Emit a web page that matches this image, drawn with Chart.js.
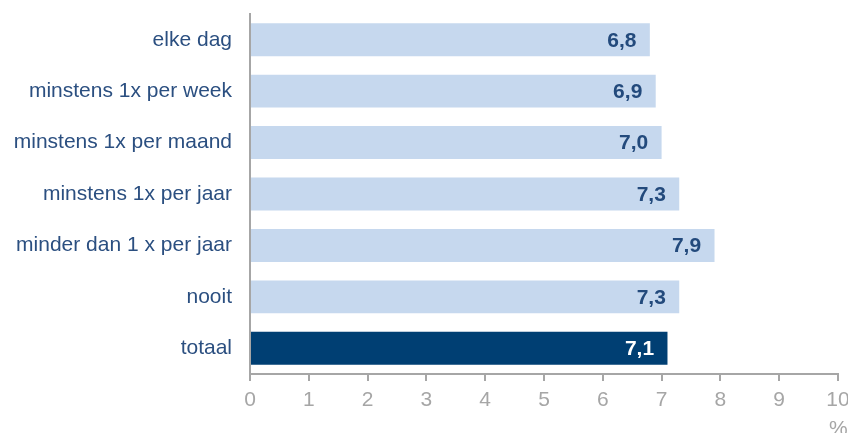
<!DOCTYPE html>
<html lang="nl">
<head>
  <meta charset="utf-8">
  <style>
    html, body { margin: 0; padding: 0; background: #ffffff; }
    .chart-box { position: relative; width: 848px; height: 433px; }
  </style>
</head>
<body>
  <div class="chart-box">
    <canvas id="myChart" width="848" height="433"></canvas>
  </div>
  <script src="https://cdn.jsdelivr.net/npm/chart.js"></script>
  <script>
    const categories = [
      'elke dag',
      'minstens 1x per week',
      'minstens 1x per maand',
      'minstens 1x per jaar',
      'minder dan 1 x per jaar',
      'nooit',
      'totaal'
    ];
    const values = [6.8, 6.9, 7.0, 7.3, 7.9, 7.3, 7.1];
    const xTicks = [0, 1, 2, 3, 4, 5, 6, 7, 8, 9, 10];
    const unitLabel = '%';

    const LIGHT = '#c6d8ee';
    const DARK = '#003f73';
    const barColors = categories.map(c => c === 'totaal' ? DARK : LIGHT);
    const labelColors = categories.map(c => c === 'totaal' ? '#ffffff' : '#234a7c');
    const FONT = '"Liberation Sans", Arial, sans-serif';

    /* ------------------------------------------------ */

    const valueLabels = {
      id: 'valueLabels',
      afterDatasetsDraw(chart) {
        const ctx = chart.ctx;
        const meta = chart.getDatasetMeta(0);
        ctx.save();
        ctx.font = 'bold 21px ' + FONT;
        ctx.textAlign = 'center';
        ctx.textBaseline = 'middle';
        meta.data.forEach((bar, i) => {
          ctx.fillStyle = labelColors[i];
          ctx.fillText(values[i].toFixed(1).replace('.', ','), bar.x - 28, bar.y + 1);
        });
        ctx.restore();
      },
      afterDraw(chart) {
        const ctx = chart.ctx;
        ctx.save();
        ctx.font = '21px ' + FONT;
        ctx.fillStyle = '#a6a6a6';
        ctx.textAlign = 'left';
        ctx.textBaseline = 'middle';
        ctx.fillText(unitLabel, 829, 429);
        ctx.restore();
      }
    };

    let ctx = document.getElementById('myChart').getContext('2d');

    let chart = new Chart(ctx, {
      type: 'bar',
      data: {
        labels: categories,
        datasets: [{
          data: values,
          backgroundColor: barColors,
          borderWidth: 0,
          barPercentage: 0.64,
          categoryPercentage: 1
        }]
      },
      options: {
        indexAxis: 'y',
        responsive: false,
        animation: false,
        layout: {
          padding: { top: 14, left: 0, right: 0, bottom: 0 }
        },
        scales: {
          x: {
            min: 0,
            max: 10,
            afterFit: (scale) => {
              scale.height = 59;
              scale.paddingLeft = 0;
              scale.paddingRight = 10;
            },
            afterBuildTicks: (scale) => { scale.ticks = xTicks.map(v => ({ value: v })); },
            grid: {
              drawOnChartArea: false,
              drawTicks: true,
              tickLength: 7,
              color: '#a6a6a6',
              lineWidth: 2
            },
            border: { color: '#a6a6a6', width: 2 },
            ticks: {
              padding: 7,
              color: '#a6a6a6',
              font: { family: FONT, size: 21 }
            }
          },
          y: {
            afterFit: (scale) => {
              scale.width = 250;
              scale.paddingTop = 0;
              scale.paddingBottom = 0;
            },
            grid: { display: false, drawTicks: false },
            border: { color: '#a6a6a6', width: 2 },
            ticks: {
              padding: 18,
              color: '#2b4f80',
              font: { family: FONT, size: 21 }
            }
          }
        },
        plugins: {
          legend: { display: false },
          tooltip: { enabled: false }
        }
      },
      plugins: [valueLabels]
    });
  </script>
</body>
</html>
